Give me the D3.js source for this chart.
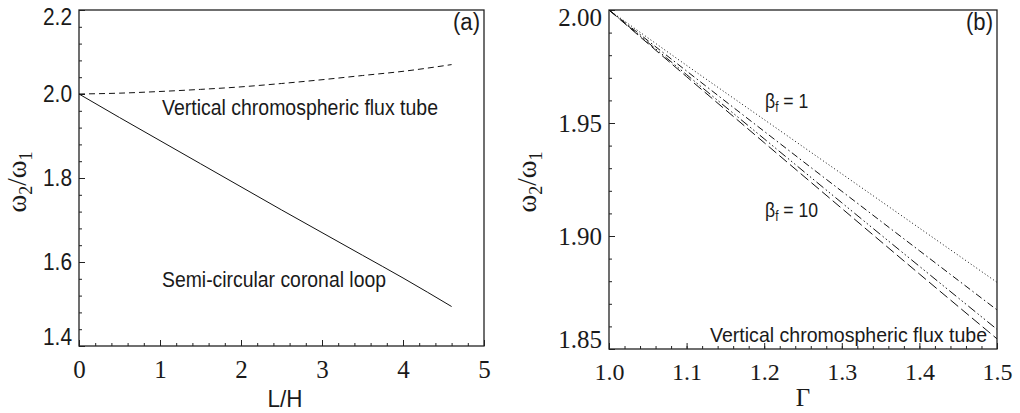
<!DOCTYPE html>
<html lang="en">
<head>
<meta charset="UTF-8">
<title>Frequency ratio</title>
<script src="https://d3js.org/d3.v7.min.js"></script>
<style>
body { margin: 0; background: #fff; }
svg { display: block; }
.frame { fill: none; stroke: #222; stroke-width: 1.3px; }
.axis path { display: none; }
.axis line { stroke: #222; stroke-width: 1px; }
.sans { font-family: "Liberation Sans", Arial, sans-serif; fill: #1a1a1a; }
.serif { font-family: "Liberation Serif", "Times New Roman", serif; fill: #1a1a1a; }
.curve { fill: none; stroke: #111; stroke-width: 1px; }
</style>
</head>
<body>
<script>
// panel (a): ratio versus L/H
var lhValues = [0, 0.5, 1, 1.5, 2, 2.5, 3, 3.5, 4, 4.6];
var tubeRatio = [2.000, 2.002, 2.006, 2.011, 2.017, 2.025, 2.034, 2.044, 2.054, 2.070];
var loopRatio = [2.000, 1.944, 1.889, 1.834, 1.779, 1.724, 1.670, 1.616, 1.562, 1.494];
var aXTicks = [0, 1, 2, 3, 4, 5];
var aYTicks = [1.4, 1.6, 1.8, 2.0, 2.2];

// panel (b): ratio versus Gamma, for several beta_f
var gammaValues = [1.0, 1.1, 1.2, 1.3, 1.4, 1.5];
var beta1 = [2.000, 1.9755, 1.9515, 1.9275, 1.9035, 1.8795];
var betaB = [2.000, 1.9730, 1.9463, 1.9198, 1.8935, 1.8673];
var betaC = [2.000, 1.9714, 1.9430, 1.9147, 1.8866, 1.8587];
var beta10 = [2.000, 1.9705, 1.9413, 1.9122, 1.8832, 1.8545];
var bXTicks = [1.0, 1.1, 1.2, 1.3, 1.4, 1.5];
var bYTicks = [1.85, 1.90, 1.95, 2.00];

var svg = d3.select("body").append("svg")
    .attr("width", 1020)
    .attr("height", 413);

function panel(opt) {
    var x = d3.scaleLinear().domain(opt.xDomain).range([opt.left, opt.right]);
    var y = d3.scaleLinear().domain(opt.yDomain).range([opt.bottom, opt.top]);
    var g = svg.append("g");

    // minor ticks
    g.append("g").attr("class", "axis")
        .attr("transform", "translate(0," + opt.bottom + ")")
        .call(d3.axisBottom(x).tickValues(d3.range(opt.xDomain[0], opt.xDomain[1] + 1e-9, opt.xMinor))
            .tickSizeInner(-3).tickSizeOuter(0).tickFormat(""));
    g.append("g").attr("class", "axis")
        .attr("transform", "translate(" + opt.left + ",0)")
        .call(d3.axisLeft(y).tickValues(d3.range(opt.yDomain[0], opt.yDomain[1] + 1e-9, opt.yMinor))
            .tickSizeInner(-3).tickSizeOuter(0).tickFormat(""));

    // major ticks with labels
    var xa = g.append("g").attr("class", "axis")
        .attr("transform", "translate(0," + opt.bottom + ")")
        .call(d3.axisBottom(x).tickValues(opt.xTicks).tickSizeInner(-6).tickSizeOuter(0)
            .tickPadding(14).tickFormat(d3.format(opt.xFmt)));
    xa.selectAll("text").attr("class", "serif").style("font-size", opt.xFont + "px").attr("fill", null);

    var ya = g.append("g").attr("class", "axis")
        .attr("transform", "translate(" + opt.left + ",0)")
        .call(d3.axisLeft(y).tickValues(opt.yTicks).tickSizeInner(-6).tickSizeOuter(0)
            .tickPadding(7).tickFormat(d3.format(opt.yFmt)));
    ya.selectAll("text").attr("class", opt.yClass).style("font-size", opt.yFont + "px").attr("fill", null);
    if (opt.yTextLength) ya.selectAll("text").attr("textLength", opt.yTextLength).attr("lengthAdjust", "spacingAndGlyphs");
    // end labels nudged inside like the original
    ya.selectAll("text").filter(function(d) { return d === opt.yDomain[0]; }).attr("dy", "-0.05em");
    ya.selectAll("text").filter(function(d) { return d === opt.yDomain[1]; }).attr("dy", "0.6em");

    g.append("rect").attr("class", "frame")
        .attr("x", opt.left).attr("y", opt.top)
        .attr("width", opt.right - opt.left).attr("height", opt.bottom - opt.top);

    var clipId = "clip" + opt.name;
    svg.append("clipPath").attr("id", clipId).append("rect")
        .attr("x", opt.left).attr("y", opt.top)
        .attr("width", opt.right - opt.left).attr("height", opt.bottom - opt.top);

    return { x: x, y: y, g: g, clip: "url(#" + clipId + ")" };
}

function drawCurve(p, xs, ys, dash, width) {
    var line = d3.line().x(function(d) { return p.x(d[0]); }).y(function(d) { return p.y(d[1]); })
        .curve(d3.curveMonotoneX);
    p.g.append("path").attr("class", "curve")
        .attr("clip-path", p.clip)
        .attr("d", line(d3.zip(xs, ys)))
        .attr("stroke-dasharray", dash)
        .attr("stroke-width", width || 1);
}

function yTitle(cx, cy) {
    var t = svg.append("text").attr("class", "serif")
        .attr("transform", "translate(" + cx + "," + cy + ") rotate(-90)")
        .attr("text-anchor", "middle")
        .style("font-size", "27px");
    t.append("tspan").text("ω");
    t.append("tspan").attr("dy", 6).style("font-size", "18px").text("2");
    t.append("tspan").attr("dy", -6).text("/ω");
    t.append("tspan").attr("dy", 6).style("font-size", "18px").text("1");
}

function sansText(x, y, size, str, len, anchor) {
    var t = svg.append("text").attr("class", "sans").attr("x", x).attr("y", y)
        .style("font-size", size + "px").attr("text-anchor", anchor || "start").text(str);
    if (len) t.attr("textLength", len).attr("lengthAdjust", "spacingAndGlyphs");
    return t;
}

// ---- panel (a)
var pa = panel({
    name: "a", left: 79, right: 484, top: 10, bottom: 346,
    xDomain: [0, 5], yDomain: [1.4, 2.2], xMinor: 0.2, yMinor: 0.04,
    xTicks: aXTicks, yTicks: aYTicks, xFmt: "d", yFmt: ".1f",
    xFont: 25, yFont: 24, yClass: "sans", yTextLength: 29
});
drawCurve(pa, lhValues, tubeRatio, "6,4");
drawCurve(pa, lhValues, loopRatio, null, 1.2);

sansText(162, 115, 22, "Vertical chromospheric flux tube", 276);
sansText(162, 287, 22, "Semi-circular coronal loop", 224);
sansText(480, 30, 23, "(a)", 27, "end");
sansText(285, 407, 24, "L/H", 35, "middle");
yTitle(26, 182);

// ---- panel (b)
var pb = panel({
    name: "b", left: 609, right: 997, top: 10, bottom: 349,
    xDomain: [1.0, 1.5], yDomain: [1.85, 2.00], xMinor: 0.02, yMinor: 0.01,
    xTicks: bXTicks, yTicks: bYTicks, xFmt: ".1f", yFmt: ".2f",
    xFont: 24, yFont: 25, yClass: "serif"
});
drawCurve(pb, gammaValues, beta1, "1,2.4");
drawCurve(pb, gammaValues, betaB, "7,3,1.5,3");
drawCurve(pb, gammaValues, betaC, "9,3,1.5,2.5,1.5,2.5,1.5,3");
drawCurve(pb, gammaValues, beta10, "10,4");

function betaLabel(x, y, val) {
    // condensed look: squeeze the whole label horizontally
    var t = svg.append("text").attr("class", "sans")
        .attr("transform", "translate(" + x + "," + y + ") scale(0.84,1)")
        .style("font-size", "21px");
    t.append("tspan").text("β");
    t.append("tspan").attr("dy", 4).style("font-size", "14px").text("f");
    t.append("tspan").attr("dy", -4).text(" = " + val);
}
betaLabel(765, 108, "1");
betaLabel(765, 217, "10");

sansText(710, 342, 21, "Vertical chromospheric flux tube", 277);
sansText(993, 30, 23, "(b)", 27, "end");
svg.append("text").attr("class", "serif").attr("x", 803).attr("y", 406)
    .attr("text-anchor", "middle").style("font-size", "25px").text("Γ");
yTitle(536, 182);
</script>
</body>
</html>
